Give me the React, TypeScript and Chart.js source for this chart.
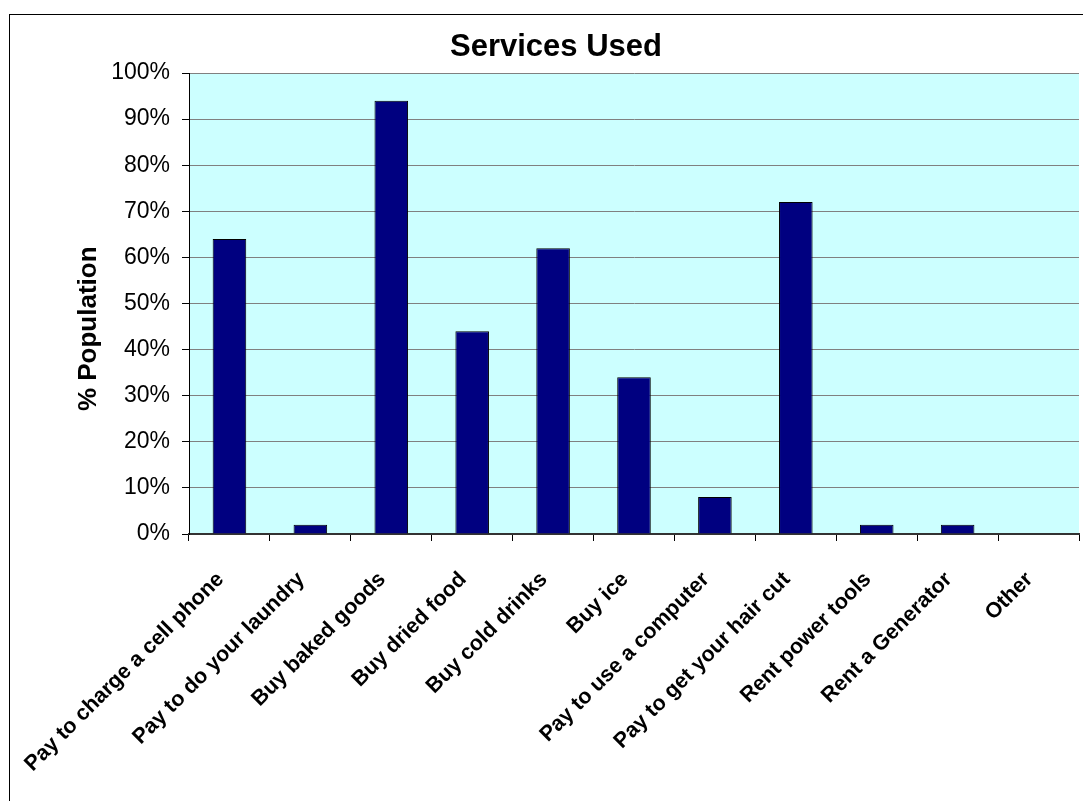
import React, { useEffect, useRef } from "react";
import { Chart, registerables } from "chart.js";

Chart.register(...registerables);

const categories = [
  "Pay to charge a cell phone",
  "Pay to do your laundry",
  "Buy baked goods",
  "Buy dried food",
  "Buy cold drinks",
  "Buy ice",
  "Pay to use a computer",
  "Pay to get your hair cut",
  "Rent power tools",
  "Rent a Generator",
  "Other",
];
const values = [64, 2, 94, 44, 62, 34, 8, 72, 2, 2, 0];
const yTicks = [0, 10, 20, 30, 40, 50, 60, 70, 80, 90, 100];
const titleText = "Services Used";
const yTitle = "% Population";

const FONT = "'Liberation Sans', Arial, sans-serif";

const bgPlugin = {
  id: "plotBg",
  beforeDraw(chart: any) {
    const { ctx, chartArea } = chart;
    if (!chartArea) return;
    ctx.save();
    ctx.fillStyle = "#CCFFFF";
    ctx.fillRect(chartArea.left, chartArea.top, chartArea.right - chartArea.left, chartArea.bottom - chartArea.top);
    ctx.restore();
  },
};

export default function App() {
  const ref = useRef<HTMLCanvasElement | null>(null);
  useEffect(() => {
    const prevMargin = document.body.style.margin;
    document.body.style.margin = "0";
    if (!ref.current) return;
    const chart = new Chart(ref.current, {
      type: "bar",
      data: {
        labels: categories,
        datasets: [
          {
            data: values,
            backgroundColor: "#000080",
            borderColor: "#000000",
            borderWidth: 1,
            barPercentage: 0.415,
            categoryPercentage: 1,
          },
        ],
      },
      plugins: [bgPlugin],
      options: {
        animation: false,
        responsive: false,
        devicePixelRatio: 1,
        layout: { padding: { left: 33, right: 4, top: 0, bottom: 0 } },
        plugins: {
          legend: { display: false },
          tooltip: { enabled: false },
          title: {
            display: true,
            text: titleText,
            color: "#000",
            font: { family: FONT, size: 31, weight: "bold" },
            padding: { top: 28.4, bottom: 7.4 },
          },
        },
        scales: {
          x: {
            afterFit: (scale: any) => {
              scale.height = 267;
            },
            grid: {
              offset: true,
              drawOnChartArea: false,
              drawTicks: true,
              tickLength: 7,
              tickColor: "#000",
              tickWidth: 1,
            },
            border: { color: "#333333", width: 2 },
            ticks: {
              autoSkip: false,
              maxRotation: 45,
              minRotation: 45,
              color: "#000",
              padding: 26,
              labelOffset: -9,
              font: { family: FONT, size: 21.5, weight: "bold" },
            },
          },
          y: {
            min: 0,
            max: 100,
            afterFit: (scale: any) => {
              scale.width = 156;
            },
            afterBuildTicks: (scale: any) => {
              scale.ticks = yTicks.map((v) => ({ value: v }));
            },
            grid: {
              color: "#808080",
              lineWidth: 1,
              tickLength: 7,
              tickColor: "#000",
            },
            border: { color: "#000", width: 1 },
            title: {
              display: true,
              text: yTitle.padEnd(yTitle.length + 7, " "),
              color: "#000",
              font: { family: FONT, size: 26, weight: "bold" },
              padding: { top: 40.4, bottom: 4 },
            },
            ticks: {
              color: "#000",
              padding: 12,
              font: { family: FONT, size: 23 },
              callback: (v: any) => v + "%",
            },
          },
        },
      },
    });
    return () => {
      chart.destroy();
      document.body.style.margin = prevMargin;
    };
  }, []);

  return (
    <div style={{ position: "fixed", left: 0, top: 0, width: 1083, height: 801, background: "#fff", overflow: "hidden" }}>
      <div
        style={{
          position: "absolute",
          left: 9,
          top: 14,
          width: 1200,
          height: 1000,
          borderLeft: "1px solid #000",
          borderTop: "1px solid #000",
        }}
      />
      <canvas ref={ref} width={1083} height={801} style={{ position: "absolute", left: 0, top: 0 }} />
    </div>
  );
}
